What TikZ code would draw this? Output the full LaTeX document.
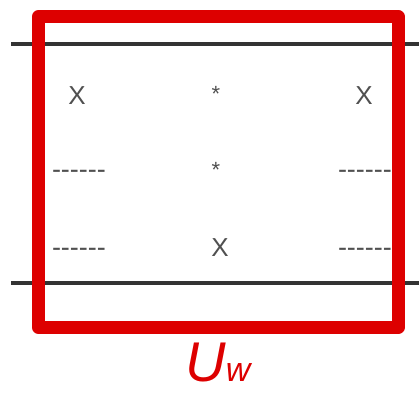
\documentclass[tikz,border=0pt]{standalone}
\usepackage{fontspec}
\setmainfont{Liberation Sans}
\usetikzlibrary{positioning}
\definecolor{boxred}{HTML}{DD0000}
\definecolor{markgray}{HTML}{505050}
\definecolor{railgray}{HTML}{333333}
\newcommand{\hyphenrow}{-{}-{}-{}-{}-{}-}

\begin{document}
\begin{tikzpicture}[
    x=1pt, y=-1pt,
    every node/.style={inner sep=0pt, outer sep=0pt},
    cross/.style={text=markgray, font=\fontsize{26}{28}\selectfont},
    star/.style={text=markgray, font=\fontsize{22}{24}\selectfont},
    gap/.style={text=markgray, font=\fontsize{27}{28}\selectfont, anchor=west},
    rail/.style={draw=railgray, line width=4pt},
    window/.style={draw=boxred, line width=13pt, line join=round}
]
\useasboundingbox (0,0) rectangle (419,392);

% rails
\draw[rail] (11,44)  -- (419,44);
\draw[rail] (11,283) -- (419,283);

% entries
\node[cross] (x1) at (77,96)  {X};
\node[star]  (s1) at (216,94) {*};
\node[cross] (x2) at (364,96) {X};
\node[gap]   (d1) at (52,174) {\hyphenrow};
\node[star]  (s2) at (216,170) {*};
\node[gap]   (d2) at (338,174) {\hyphenrow};
\node[gap]   (d3) at (52,252) {\hyphenrow};
\node[cross] (x3) at (220,248) {X};
\node[gap]   (d4) at (338,252) {\hyphenrow};

% window
\draw[window] (38.5,16.5) rectangle (398,327.5);
\node[text=boxred, font=\itshape] (uw) at (218,362)
    {\fontsize{56}{58}\selectfont U\fontsize{34}{36}\selectfont w};
\end{tikzpicture}
\end{document}
